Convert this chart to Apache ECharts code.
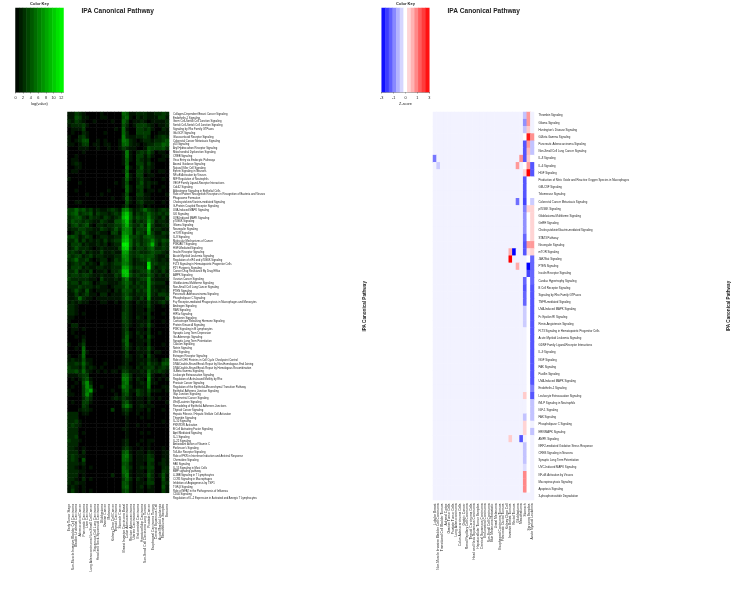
<!DOCTYPE html>
<html>
<head>
<meta charset="utf-8">
<title>IPA Canonical Pathway</title>
<style>
html,body{margin:0;padding:0;background:#fff;}
#main{width:732px;height:610px;}
</style>
<script src="https://cdn.jsdelivr.net/npm/echarts@6/dist/echarts.min.js"></script>
</head>
<body>
<div id="main"></div>
<script>
//--------------------left heatmap data-------------------
var leftCols = ['Early Tumor Stage','Non-Muscle Invasive Bladder Cell Carcinoma','Bladder Urothelial Carcinoma','Adrenocortical Cancer',
    'Pancreatic Carcinoma','Liver Carcinoma','Lung Adenocarcinoma Non-Small Cell Cancer','Squamous Cell Lung Carcinoma',
    'Head and Neck Squamous Carcinoma','Glioblastoma','Ovarian Cancer','Melanoma','Kidney Clear Cell Cancer','Thyroid Carcinoma',
    'Stomach Cancer','Breast Invasive Carcinoma Basal','Colon Adenocarcinoma','Rectum Adenocarcinoma','Uterine Carcinosarcoma',
    'Endometrial Carcinoma','Hepatocellular Carcinoma','Non-Small Cell Carcinoma Lung Tumors','Prostate Cancer',
    'Esophageal Carcinoma Tumors','Cervical Squamous Cell','Acute Myeloid Leukemia','Mesothelioma Samples','Sarcoma'];
var leftRows = ['Collagen-Dependent Breast Cancer Signaling','Endothelin-1 Signaling','Germ Cell-Sertoli Cell Junction Signaling',
    'Sertoli Cell-Sertoli Cell Junction Signaling','Signaling by Rho Family GTPases','Gb-GCR Signaling','Glucocorticoid Receptor Signaling',
    'Colorectal Cancer Metastasis Signaling','p53 Signaling','Aryl Hydrocarbon Receptor Signaling','Mitochondrial Dysfunction Signaling',
    'CREB Signaling','Virus Entry via Endocytic Pathways','Axonal Guidance Signaling','Natural Killer Cell Signaling',
    'Ephrin Signaling in Neurons','NF-\u03baB Activation by Viruses','MIF Regulation of Neutrophils','VEGF Family Ligand-Receptor Interactions',
    'Cdc42 Signaling','Aldosterone Signaling in Epithelial Cells',
    'Role of Pattern Recognition Receptors in Recognition of Bacteria and Viruses','Phagosome Formation',
    'Cholecystokinin/Gastrin-mediated Signaling','G-Protein Coupled Receptor Signaling','UVA-Induced MAPK Signaling','ILK Signaling',
    'UVB-Induced MAPK Signaling','p70S6K Signaling','Glioma Signaling','Neuregulin Signaling','mTOR Signaling','IL-8 Signaling',
    'Molecular Mechanisms of Cancer','PI3K/AKT Signaling','HGF-Mediated Signaling','Insulin Receptor Signaling',
    'Acute Myeloid Leukemia Signaling','Regulation of eIF4 and p70S6K Signaling','FLT3 Signaling in Hematopoietic Progenitor Cells',
    'P2Y Purigenic Signaling','Cancer Drug Resistance By Drug Efflux','AMPK Signaling','Ovarian Cancer Signaling',
    'Glioblastoma Multiforme Signaling','Non-Small Cell Lung Cancer Signaling','PTEN Signaling','Pancreatic Adenocarcinoma Signaling',
    'Phospholipase C Signaling','Fc\u03b3 Receptor-mediated Phagocytosis in Macrophages and Monocytes','Androgen Signaling','RAN Signaling',
    'HIF1\u03b1 Signaling','Melatonin Signaling','Corticotropin Releasing Hormone Signaling','Protein Kinase A Signaling',
    'PI3K Signaling in B Lymphocytes','Synaptic Long Term Depression','G\u03b1 Adrenergic Signaling','Synaptic Long Term Potentiation',
    'Calcium Signaling','Netrin Signaling','Wnt Signaling','Estrogen Receptor Signaling',
    'Role of CHK Proteins in Cell Cycle Checkpoint Control','DNA Double-Strand Break Repair by Non-Homologous End Joining',
    'DNA Double-Strand Break Repair by Homologous Recombination','G-Beta Gamma Signaling','Leukocyte Extravasation Signaling',
    'Regulation of Actin-based Motility by Rho','Prostate Cancer Signaling',
    'Regulation of the Epithelial-Mesenchymal Transition Pathway','Epithelial Adherens Junction Signaling','Gap Junction Signaling',
    'Endometrial Cancer Signaling','Wnt/\u03b2-catenin Signaling','Remodeling of Epithelial Adherens Junctions','Thyroid Cancer Signaling',
    'Hepatic Fibrosis / Hepatic Stellate Cell Activation','Thrombin Signaling','IL-10 Signaling','PXR/RXR Activation',
    'B Cell Activating Factor Signaling','April Mediated Signaling','IL-1 Signaling','IL-22 Signaling','Antioxidant Action of Vitamin C',
    "Parkinson's Signaling",'Toll-like Receptor Signaling','Role of PKR in Interferon Induction and Antiviral Response',
    'Chemokine Signaling','FAK Signaling','IL-15 Signaling in Mast Cells','BMP signaling pathway','4-1BB Signaling in T Lymphocytes',
    'CCR5 Signaling in Macrophages','Inhibition of Angiogenesis by TSP1','TGF-\u03b2 Signaling',
    'Role of NFAT in the Pathogenesis of Influenza','CD40 Signaling',
    'Regulation of IL-2 Expression in Activated and Anergic T Lymphocytes'];
var leftValues = [
    [1,1,3,2,1,0,0,0,0,1,0,0,0,0,0,5,4,1,1,2,2,2,1,1,2,2,3,2],
    [1,1,4,3,1,1,0,0,0,1,1,0,0,0,0,4,5,1,0,2,1,2,1,1,1,3,3,1],
    [2,1,3,2,1,0,0,1,0,0,0,0,1,0,0,5,3,0,1,1,2,1,0,1,1,1,1,2],
    [1,2,2,2,3,1,0,0,0,0,0,0,0,0,0,4,2,0,1,3,3,3,2,1,0,1,1,2],
    [0,1,1,1,3,0,0,0,0,0,0,0,0,1,0,5,1,0,0,3,3,2,3,1,0,0,2,1],
    [0,1,0,0,2,1,0,0,0,0,1,0,0,0,0,5,2,0,0,3,3,3,3,0,0,1,1,1],
    [1,0,0,2,3,1,0,0,0,0,0,0,0,0,0,6,2,1,1,2,2,3,2,0,1,2,3,2],
    [1,0,1,2,4,4,0,0,1,0,1,0,0,0,1,6,5,2,1,0,1,2,2,1,2,2,3,4],
    [1,1,0,1,3,3,0,1,1,0,1,1,0,0,1,5,5,2,1,1,0,1,2,2,3,3,5,4],
    [0,0,0,1,1,1,0,0,1,0,0,1,0,0,1,3,2,1,1,0,0,1,4,3,3,3,4,2],
    [0,0,0,0,1,0,0,0,0,0,0,0,0,0,0,1,6,1,0,2,3,2,4,2,0,1,1,0],
    [0,0,1,0,0,0,0,0,0,0,0,0,0,0,0,1,6,1,0,3,3,1,3,1,0,0,1,1],
    [0,1,1,0,0,0,0,0,0,0,0,0,0,0,0,1,5,1,0,3,2,1,2,0,0,1,1,0],
    [0,1,2,1,0,0,0,0,0,0,0,0,0,0,0,1,5,0,0,3,3,1,3,1,0,0,0,0],
    [0,0,1,1,0,0,0,0,0,0,0,0,0,0,0,0,6,1,0,2,4,1,2,1,0,0,0,0],
    [0,1,1,0,0,0,0,0,0,0,0,0,0,0,0,1,5,0,0,3,3,1,2,0,0,1,1,0],
    [0,0,0,0,0,0,0,0,0,0,0,0,0,0,0,0,6,1,0,3,3,0,1,1,0,0,0,0],
    [1,0,0,0,0,0,0,0,0,0,0,0,0,0,0,1,5,1,0,2,3,1,1,0,0,0,1,0],
    [0,0,0,1,0,0,0,0,0,0,0,0,0,1,0,1,4,0,0,2,4,1,2,1,1,0,0,0],
    [0,0,0,0,0,0,0,0,0,0,0,0,0,0,0,1,5,1,0,3,3,1,2,0,0,0,1,0],
    [0,0,1,0,0,0,0,0,0,0,0,1,0,0,0,0,5,1,0,2,3,0,1,1,0,1,0,0],
    [0,0,0,0,0,1,0,0,0,1,0,0,0,0,0,1,4,0,0,3,3,1,1,0,0,0,0,1],
    [0,0,0,0,0,0,0,0,0,0,0,0,1,0,0,1,5,1,0,2,2,1,1,0,0,0,0,0],
    [0,0,1,1,0,0,0,0,0,0,0,0,0,0,0,0,4,1,0,2,3,1,1,1,0,0,1,0],
    [0,0,0,0,0,0,0,0,0,0,0,0,0,0,0,1,3,0,0,1,2,0,1,0,0,0,0,0],
    [3,3,5,3,4,2,3,1,2,1,1,2,3,2,1,6,7,3,1,2,3,5,3,2,1,2,3,2],
    [3,4,5,2,3,3,4,1,3,2,2,1,2,3,2,8,10,5,1,3,2,3,5,3,2,3,2,3],
    [2,3,4,4,2,1,3,2,2,1,3,2,1,2,3,9,11,5,2,4,3,3,6,3,2,1,3,1],
    [2,4,3,3,2,3,2,1,1,3,2,1,1,4,4,7,10,4,1,3,2,3,7,4,1,2,2,1],
    [1,3,4,2,3,4,1,0,2,2,1,2,2,3,3,6,9,4,2,2,4,2,9,3,1,1,2,2],
    [1,2,2,3,3,2,2,1,1,3,2,1,2,4,2,6,7,5,1,3,3,3,9,2,2,2,1,1],
    [0,1,3,2,4,2,1,1,2,1,1,0,3,3,1,7,7,5,1,4,3,2,8,3,1,1,3,2],
    [3,4,3,1,2,3,2,0,1,2,2,1,1,2,2,8,9,4,3,3,2,4,5,4,2,2,2,1],
    [2,2,4,1,3,1,2,1,2,1,3,1,2,3,3,9,10,5,2,3,2,3,4,6,3,2,4,3],
    [1,3,3,3,1,2,1,1,2,1,2,0,1,2,2,12,12,5,2,4,2,3,5,9,3,1,3,2],
    [1,2,4,2,2,2,1,0,1,2,1,1,1,1,3,10,11,4,1,3,3,2,4,5,2,2,3,2],
    [2,3,2,1,3,1,2,1,1,3,1,1,2,1,1,8,8,3,2,3,2,2,3,4,3,3,2,1],
    [3,2,3,3,1,2,3,1,2,2,1,1,1,2,2,7,7,3,2,3,4,3,4,4,2,1,1,2],
    [2,3,5,2,2,3,1,0,1,2,2,0,1,3,2,6,7,3,1,2,3,3,5,3,2,1,2,1],
    [1,2,3,2,3,1,2,1,0,3,2,1,2,3,3,6,6,3,1,2,2,2,11,3,3,2,2,2],
    [1,3,3,3,1,2,1,1,2,2,1,1,2,2,2,8,8,4,2,3,3,2,12,3,1,2,3,2],
    [2,2,4,1,2,1,3,0,1,1,2,0,2,2,3,10,10,3,1,2,3,3,6,2,2,1,3,1],
    [2,3,3,2,3,3,2,1,1,2,1,1,1,3,2,9,10,4,2,3,2,2,5,3,1,2,1,2],
    [3,2,2,2,2,2,1,1,0,3,1,1,1,2,1,4,6,2,1,2,3,3,7,2,1,1,1,1],
    [2,3,3,1,3,3,2,0,1,2,2,1,1,1,2,4,5,3,1,3,2,2,7,3,2,2,2,0],
    [2,2,2,3,2,2,2,1,2,1,1,0,1,2,2,3,5,2,2,2,3,2,7,2,1,1,1,1],
    [1,2,4,2,1,4,1,0,1,1,1,1,0,2,1,4,4,3,1,3,2,3,7,2,2,1,2,1],
    [1,1,3,1,2,3,1,1,0,2,2,0,1,1,1,3,4,2,1,2,2,2,7,2,1,3,3,2],
    [1,1,2,5,2,1,1,0,1,1,1,1,1,1,1,3,5,3,1,1,3,1,7,1,1,1,1,3],
    [1,2,1,2,1,1,0,0,0,1,1,0,0,1,0,2,3,1,0,2,1,1,4,1,1,2,3,1],
    [2,2,1,0,0,0,0,0,0,0,0,0,0,0,0,2,3,1,0,1,1,1,4,1,0,0,1,0],
    [2,2,1,0,0,0,0,0,0,0,0,0,0,0,0,2,3,1,0,1,1,0,3,1,0,0,0,0],
    [2,2,1,0,1,0,0,0,0,0,0,0,0,0,0,3,3,1,0,1,1,1,3,0,0,0,1,0],
    [1,1,0,0,0,0,0,0,0,0,0,0,0,0,0,3,3,1,0,2,1,0,3,1,0,0,0,0],
    [1,0,0,0,0,0,0,0,0,0,0,0,0,0,0,3,3,1,0,1,1,1,3,0,0,0,1,0],
    [0,2,2,0,0,0,0,0,0,0,0,0,0,0,0,2,3,1,0,1,2,1,4,1,0,0,0,0],
    [0,1,1,0,1,0,0,0,0,0,0,0,0,0,0,2,3,0,0,1,1,0,3,0,0,0,0,0],
    [0,1,0,0,0,0,0,0,0,0,0,0,0,0,0,2,4,1,0,2,1,1,3,0,0,1,0,0],
    [0,0,1,0,1,0,0,0,0,0,0,0,0,0,0,2,5,1,0,1,2,0,4,1,0,0,0,0],
    [0,0,0,0,2,0,0,0,0,0,0,0,0,0,0,3,5,0,0,1,1,1,3,0,0,0,0,0],
    [1,0,0,1,3,0,0,0,0,0,0,0,0,0,0,2,5,1,0,1,1,0,3,0,0,0,1,0],
    [0,0,1,0,5,0,0,0,0,0,0,0,0,0,0,2,4,1,0,2,1,1,4,1,0,0,0,0],
    [0,0,0,0,5,1,0,0,0,0,0,0,0,0,0,1,3,0,0,1,1,1,3,0,1,1,0,0],
    [1,0,0,1,5,0,0,0,0,0,0,0,0,0,0,1,3,1,0,1,2,0,4,1,0,0,0,0],
    [1,2,1,1,4,1,1,0,0,0,0,0,0,0,0,1,2,1,0,1,1,1,3,1,1,0,2,3],
    [2,2,3,2,5,2,1,0,0,0,1,0,0,0,0,1,2,0,0,1,2,1,4,2,2,1,4,4],
    [3,2,2,1,4,1,2,1,0,1,0,0,0,0,1,2,2,1,0,2,1,2,3,3,1,2,3,2],
    [3,3,4,2,5,2,1,0,1,0,1,0,1,1,0,3,3,1,1,1,2,1,5,2,2,3,2,1],
    [1,1,1,2,3,3,0,0,0,0,0,0,0,0,0,5,5,2,0,1,1,1,6,1,0,0,1,0],
    [0,1,0,1,3,4,1,0,0,0,0,0,0,0,0,6,6,2,0,2,1,0,7,1,0,1,0,1],
    [0,0,1,0,4,7,2,0,0,0,0,0,0,0,0,5,6,1,0,1,2,1,6,1,1,0,0,0],
    [0,1,0,0,3,7,4,0,0,1,0,0,0,0,1,6,5,2,0,1,1,1,6,0,0,0,1,1],
    [1,0,0,0,3,6,8,1,0,0,0,0,1,0,0,4,5,1,1,3,2,1,4,1,1,1,0,1],
    [1,1,0,0,3,7,3,0,0,0,0,0,0,1,0,3,4,1,0,3,2,1,3,0,0,0,0,0],
    [0,0,0,0,2,4,2,0,0,0,0,0,1,2,1,3,2,1,0,1,1,0,2,1,0,1,0,0],
    [0,1,0,0,3,3,1,0,0,0,0,0,0,0,0,3,4,1,0,1,1,0,2,0,0,0,0,1],
    [0,0,0,0,3,2,0,0,0,0,0,0,0,0,0,4,6,3,0,1,2,1,1,1,0,0,0,0],
    [0,0,0,1,2,2,1,0,0,0,0,0,3,0,0,2,3,1,0,1,1,0,2,0,0,0,1,0],
    [2,2,2,0,1,1,0,0,0,0,0,0,0,0,0,1,2,0,0,1,0,0,1,0,0,0,0,0],
    [2,2,2,0,0,0,0,0,0,0,0,0,0,0,0,0,1,0,0,0,1,0,1,0,0,0,0,0],
    [2,2,3,1,0,0,0,0,0,0,0,0,0,0,0,0,1,0,0,0,0,0,0,0,0,0,1,0],
    [2,3,2,1,0,0,0,0,0,0,0,0,0,0,0,0,1,0,0,1,0,0,1,0,0,0,0,0],
    [2,2,2,0,0,0,0,0,0,0,0,0,0,0,0,1,1,0,0,0,0,0,0,0,0,0,0,0],
    [2,2,2,0,1,0,0,0,0,0,0,0,0,0,0,0,1,0,0,0,1,0,1,0,0,0,0,0],
    [2,2,3,0,0,0,0,0,0,0,0,0,0,0,0,0,1,0,0,0,0,0,0,0,0,0,0,0],
    [3,2,2,1,0,0,0,0,0,0,0,0,0,0,0,1,2,0,0,0,1,0,1,1,0,0,0,0],
    [2,2,2,0,0,0,0,0,0,0,0,0,0,0,0,1,2,0,0,1,0,0,1,0,0,0,0,0],
    [2,2,1,0,1,0,0,0,0,0,0,0,0,0,0,2,3,1,0,0,1,0,1,0,0,0,1,0],
    [2,2,2,0,2,0,0,0,0,0,0,0,0,0,0,4,5,1,0,1,1,0,2,1,0,0,1,1],
    [2,3,2,1,1,0,0,0,0,0,0,0,0,0,0,5,6,2,0,1,1,1,3,2,0,0,1,1],
    [2,3,2,0,4,0,0,0,0,0,0,0,0,0,0,5,5,2,0,1,1,1,3,3,0,0,2,1],
    [2,2,2,1,2,0,0,0,0,0,0,0,0,0,0,4,4,1,0,1,1,0,3,2,0,1,2,1],
    [2,2,1,0,1,0,1,0,0,0,0,0,0,0,0,5,4,2,0,1,2,1,3,3,0,0,2,2],
    [2,2,2,1,1,0,0,0,0,0,0,0,0,0,0,5,5,1,0,1,1,0,3,2,0,0,3,2],
    [2,2,2,0,1,0,0,0,0,0,0,0,2,0,0,4,6,1,0,1,1,1,4,2,0,1,4,1],
    [2,2,1,0,2,0,1,0,0,0,0,0,0,0,0,3,5,2,0,2,1,0,3,2,0,0,4,1],
    [2,1,2,1,1,0,0,0,0,0,0,0,0,0,0,4,4,1,0,1,1,1,3,3,0,0,3,2],
    [1,2,1,0,1,0,0,0,0,0,0,0,0,0,0,4,5,1,0,1,2,0,2,1,0,0,4,1],
    [1,3,1,0,1,0,1,0,0,0,0,0,0,0,0,3,4,1,0,1,1,0,1,1,0,0,3,1]
];
//--------------------right heatmap data-------------------
var rightCols = ['Lobular Breast','Non-Muscle Invasive Bladder Cell Carcinoma','Transitional Cell Bladder Tumors','Adrenal Cortex',
    'Ovarian Tumor Cells','Prostate Tumor Cells','Lung Adenocarcinoma','Colon Adenocarcinoma Cells','Gastric Cancer',
    'Renal Papillary Cell Carcinoma','Thyroid Carcinoma Cells','Head and Neck Squamous Carcinoma','Hepatocellular Tumor Samples',
    'Cervical Squamous Carcinoma','Endometrial Carcinoma','Non-Small Cell Carcinoma','Skin Melanoma Metastatic','Uveal Melanoma',
    'Esophageal Carcinoma Tumors','Pancreatic Ductal Tumors','Kidney Clear Cell','Invasive Breast Tumors','Rectal Tumors',
    'Glioblastoma','Mesothelioma','Stomach','Sarcoma Samples','Acute Myeloid Leukemia'];
var rightRows = ['Thrombin Signaling','Glioma Signaling',"Huntington's Disease Signaling",'G-Beta Gamma Signaling',
    'Pancreatic Adenocarcinoma Signaling','Non-Small Cell Lung Cancer Signaling','IL-8 Signaling','IL-6 Signaling','HGF Signaling',
    'Production of Nitric Oxide and Reactive Oxygen Species in Macrophages','GM-CSF Signaling','Telomerase Signaling',
    'Colorectal Cancer Metastasis Signaling','p70S6K Signaling','Glioblastoma Multiforme Signaling','GnRH Signaling',
    'Cholecystokinin/Gastrin-mediated Signaling','STAT3 Pathway','Neuregulin Signaling','mTOR Signaling','JAK/Stat Signaling','PTEN Signaling',
    'Insulin Receptor Signaling','Cardiac Hypertrophy Signaling','B Cell Receptor Signaling','Signaling by Rho Family GTPases',
    'TNFR-mediated Signaling','UVA-Induced MAPK Signaling','Fc Epsilon RI Signaling','Renin-Angiotensin Signaling',
    'FLT3 Signaling in Hematopoietic Progenitor Cells','Acute Myeloid Leukemia Signaling','GDNF Family Ligand-Receptor Interactions',
    'IL-9 Signaling','NGF Signaling','PAK Signaling','Paxillin Signaling','UVA-Induced MAPK Signaling','Endothelin-1 Signaling',
    'Leukocyte Extravasation Signaling','fMLP Signaling in Neutrophils','IGF-1 Signaling','FAK Signaling','Phospholipase C Signaling',
    'ERK/MAPK Signaling','AMPK Signaling','NRF2-mediated Oxidative Stress Response','CREB Signaling in Neurons',
    'Synaptic Long Term Potentiation','UVC-Induced MAPK Signaling','NF-\u03baB Activation by Viruses','Macropinocytosis Signaling',
    'Apoptosis Signaling','3-phosphoinositide Degradation'];
var z = -0.15;   //background cells, pale lavender in the picture
var rightCol0 = {7: -1.6};
var rightCol1 = {8: -0.6};
var rightCol21 = {20: 1, 21: 3, 46: 0.6};
var rightCol22 = {20: -3};
var rightCol23 = {8: 1.2, 13: -1.7, 22: 1};
var rightCol24 = {7: 1.3, 46: -2};
var rightCol25 = [-0.7,-1.3,-0.7,0,-2,-2,-2,0,0.5,-2,-2,-2,-2.2,-1.5,-1.3,-1.3,-1.3,-1.8,-2,-2,z,z,z,-1.8,-2,-1.8,-1.8,-0.6,-0.6,-0.6,
    z,z,z,z,z,z,z,z,z,0.6,z,z,-0.7,0.5,0.5,z,-0.7,-0.7,-0.7,-0.4,1.4,1.4,1.4,z];
var rightCol26 = [1.2,1.2,0.6,2.7,1.2,0.8,0.6,1.2,3,0,0,0,0,0.5,0,0,0,0,1.2,0.3,0,-3,-2.2,0,0,0,0,0,0,0,
    0,0,0,0,0,0,0,0,0,0,0,0,0,0,0,0,0,0,0,0,0,0,0,z];
var rightCol27 = [z,z,z,1.3,-0.7,-0.7,0,-2,-2,0,0,0,-0.6,0.5,0.5,0.5,0.5,0.5,1.2,0.5,-1.8,-1.8,-1.8,-1.8,-2,-2,-2,-2,-2,-2,
    -2,-2,-2,-2,-2,-2,-2,-2,-1.5,-2,-0.7,-0.7,-0.7,z,-0.7,z,z,z,z,z,z,z,z,z];
//--------------------colour keys-------------------
var leftKeyBands = [0.5,1.5,2.5,3.5,4.5,5.5,6.5,7.5,8.5,9.5,10.5,11.5,12.5];
var rightKeyBands = [-2.8,-2.3,-1.9,-1.4,-0.9,-0.5,0,0.5,0.9,1.4,1.9,2.3,2.8];

var leftData = [];
leftValues.forEach(function(row, r){
    row.forEach(function(v, c){
        leftData.push([c, r, v]);
    });
});

var rightData = [];
rightRows.forEach(function(name, r){
    rightCols.forEach(function(col, c){
        var v = z;
        if(c == 0 && rightCol0[r + 1] !== undefined) v = rightCol0[r + 1];
        if(c == 1 && rightCol1[r + 1] !== undefined) v = rightCol1[r + 1];
        if(c == 21 && rightCol21[r + 1] !== undefined) v = rightCol21[r + 1];
        if(c == 22 && rightCol22[r + 1] !== undefined) v = rightCol22[r + 1];
        if(c == 23 && rightCol23[r + 1] !== undefined) v = rightCol23[r + 1];
        if(c == 24 && rightCol24[r + 1] !== undefined) v = rightCol24[r + 1];
        if(c == 25) v = rightCol25[r];
        if(c == 26) v = rightCol26[r];
        if(c == 27) v = rightCol27[r];
        rightData.push([c, r, v]);
    });
});

var fontName = '"Liberation Sans", Arial, sans-serif';
var lineStyle = {color: '#444', width: 0.5};

function keyIndexData(bands){
    return bands.map(function(v, i){ return [i, 0, v]; });
}
function bandNames(bands){
    return bands.map(function(v, i){ return 'b' + i; });
}

var myChart = echarts.init(document.getElementById('main'), null, {renderer: 'canvas'});
var option = {
    backgroundColor: '#fff',
    animation: false,
    textStyle: {fontFamily: fontName},
    title: [
        {text: 'IPA Canonical Pathway', left: 81.5, top: 7.5, padding: 0, textStyle: {fontSize: 6.6, fontWeight: 'bold', color: '#222', fontFamily: fontName}},
        {text: 'IPA Canonical Pathway', left: 447.5, top: 7.5, padding: 0, textStyle: {fontSize: 6.6, fontWeight: 'bold', color: '#222', fontFamily: fontName}},
        {text: 'Color Key', left: 39.5, textAlign: 'center', top: 2.2, padding: 0, textStyle: {fontSize: 4, fontWeight: 'bold', color: '#222', fontFamily: fontName}},
        {text: 'Color Key', left: 405.5, textAlign: 'center', top: 2.2, padding: 0, textStyle: {fontSize: 4, fontWeight: 'bold', color: '#222', fontFamily: fontName}}
    ],
    grid: [
        {left: 67.5, top: 112, width: 101.5, height: 388.5},
        {left: 433, top: 112, width: 102, height: 388},
        {left: 15.5, top: 8, width: 48, height: 84},
        {left: 381.7, top: 8, width: 47.6, height: 84}
    ],
    xAxis: [
        {type: 'category', gridIndex: 0, data: leftCols, position: 'bottom',
            axisLine: {show: false}, axisTick: {show: false}, splitLine: {show: false},
            axisLabel: {interval: 0, rotate: 90, fontSize: 3.3, margin: 3.5, color: '#222', fontFamily: fontName}},
        {type: 'category', gridIndex: 1, data: rightCols, position: 'bottom',
            axisLine: {show: false}, axisTick: {show: false}, splitLine: {show: false},
            axisLabel: {interval: 0, rotate: 90, fontSize: 3.3, margin: 3.5, color: '#222', fontFamily: fontName}},
        {type: 'category', gridIndex: 2, data: bandNames(leftKeyBands), show: false},
        {type: 'category', gridIndex: 3, data: bandNames(rightKeyBands), show: false},
        {type: 'value', gridIndex: 2, position: 'bottom', min: 0, max: 12.6, interval: 2,
            name: 'log(value)', nameLocation: 'middle', nameGap: 10,
            nameTextStyle: {fontSize: 3.8, color: '#222', fontFamily: fontName},
            axisLine: {show: true, lineStyle: lineStyle}, axisTick: {show: true, length: 1.5, lineStyle: lineStyle}, splitLine: {show: false},
            axisLabel: {fontSize: 3.8, margin: 3.5, color: '#222', fontFamily: fontName, showMaxLabel: false}},
        {type: 'value', gridIndex: 3, position: 'bottom', min: -3, max: 3, interval: 1.5,
            name: 'Z-score', nameLocation: 'middle', nameGap: 10,
            nameTextStyle: {fontSize: 3.8, color: '#222', fontFamily: fontName},
            axisLine: {show: true, lineStyle: lineStyle}, axisTick: {show: true, length: 1.5, lineStyle: lineStyle}, splitLine: {show: false},
            axisLabel: {fontSize: 3.8, margin: 3.5, color: '#222', fontFamily: fontName,
                formatter: function(v){ return String(Math.trunc(v) + 0); }}}
    ],
    yAxis: [
        {type: 'category', gridIndex: 0, data: leftRows, inverse: true, position: 'right',
            name: 'IPA Canonical Pathway', nameLocation: 'middle', nameRotate: 90, nameGap: 193,
            nameTextStyle: {fontSize: 4.6, fontWeight: 'bold', color: '#222', fontFamily: fontName},
            axisLine: {show: false}, axisTick: {show: false}, splitLine: {show: false},
            axisLabel: {interval: 0, fontSize: 2.7, margin: 4, color: '#222', fontFamily: fontName}},
        {type: 'category', gridIndex: 1, data: rightRows, inverse: true, position: 'right',
            name: 'IPA Canonical Pathway', nameLocation: 'middle', nameRotate: 90, nameGap: 192,
            nameTextStyle: {fontSize: 4.6, fontWeight: 'bold', color: '#222', fontFamily: fontName},
            axisLine: {show: false}, axisTick: {show: false}, splitLine: {show: false},
            axisLabel: {interval: 0, fontSize: 2.8, margin: 4.5, color: '#222', fontFamily: fontName}},
        {type: 'category', gridIndex: 2, data: ['key'], show: false},
        {type: 'category', gridIndex: 3, data: ['key'], show: false}
    ],
    visualMap: [
        {show: false, seriesIndex: [0, 2], min: 0, max: 13, inRange: {color: ['#000000', '#00ff00']}},
        {show: false, seriesIndex: [1, 3], min: -3, max: 3, inRange: {color: ['#0000ff', '#ffffff', '#ff0000']}}
    ],
    series: [
        {name: 'left', type: 'heatmap', xAxisIndex: 0, yAxisIndex: 0, data: leftData, progressive: 0},
        {name: 'right', type: 'heatmap', xAxisIndex: 1, yAxisIndex: 1, data: rightData, progressive: 0},
        {name: 'leftKey', type: 'heatmap', xAxisIndex: 2, yAxisIndex: 2, data: keyIndexData(leftKeyBands), progressive: 0},
        {name: 'rightKey', type: 'heatmap', xAxisIndex: 3, yAxisIndex: 3, data: keyIndexData(rightKeyBands), progressive: 0}
    ]
};
myChart.setOption(option);
</script>
</body>
</html>
